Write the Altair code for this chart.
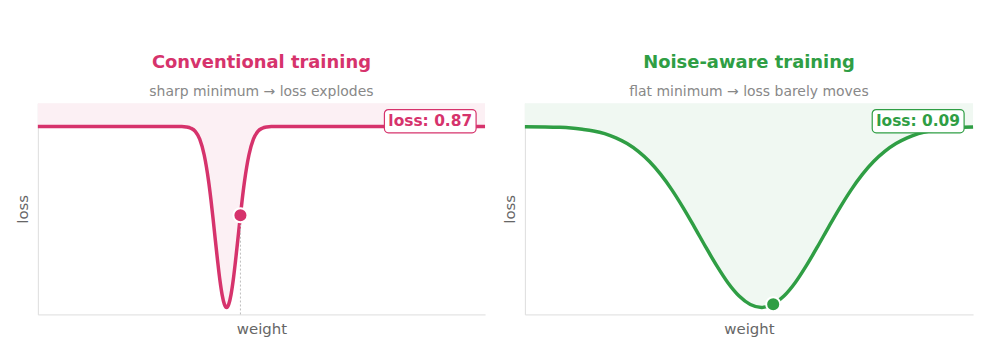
import altair as alt
import pandas as pd

# ---- data ----
left_w = [0, 20, 30, 32.2, 33.2, 34.2, 35.2, 36.2, 37.2, 38.2, 38.7, 39.2, 39.7, 40.2, 40.7, 41.2,
          41.7, 42.2, 42.7, 43.2, 43.7, 44.2, 44.7, 45.2, 45.7, 46.2, 47.2, 48.2, 49.2, 50.2,
          51.2, 52.2, 64.4, 100]
left_loss = [0.89, 0.89, 0.89, 0.89, 0.888, 0.882, 0.867, 0.830, 0.755, 0.628, 0.544, 0.450,
             0.350, 0.253, 0.164, 0.094, 0.049, 0.033, 0.049, 0.094, 0.164, 0.253, 0.350, 0.450,
             0.544, 0.628, 0.755, 0.830, 0.867, 0.882, 0.888, 0.89, 0.89, 0.89]

right_w = [0, 7.8, 10.3, 12.8, 15.3, 17.8, 20.3, 22.8, 25.3, 27.8, 30.3, 32.8, 35.3, 37.8, 40.3,
           42.8, 45.3, 47.8, 50.3, 52.8, 55.3, 57.8, 60.3, 62.8, 65.3, 67.8, 70.3, 72.8, 75.3,
           77.8, 80.3, 82.8, 85.3, 87.8, 90.3, 92.8, 95.3, 97.8, 100]
right_loss = [0.889, 0.886, 0.883, 0.877, 0.869, 0.856, 0.836, 0.809, 0.772, 0.724, 0.663, 0.590,
              0.506, 0.415, 0.321, 0.231, 0.150, 0.087, 0.047, 0.033, 0.047, 0.087, 0.150, 0.231,
              0.321, 0.415, 0.506, 0.590, 0.663, 0.724, 0.772, 0.809, 0.836, 0.856, 0.869, 0.877,
              0.883, 0.886, 0.888]

left_point = (45.3, 0.47)
right_point = (55.4, 0.048)

titles = ["Conventional training", "Noise-aware training"]
subtitles = ["sharp minimum \u2192 loss explodes", "flat minimum \u2192 loss barely moves"]
labels = ["loss: 0.87", "loss: 0.09"]

PINK = "#d6336c"
GREEN = "#2f9e44"
FONT = "DejaVu Sans"

xs = alt.Scale(domain=[0, 100], nice=False)
ys = alt.Scale(domain=[0, 1], nice=False)


def panel(w, loss, pt, title, subtitle, label, color, fill, width, show_rule):
    df = pd.DataFrame({"w": w, "loss": loss, "top": 1.0})
    base = alt.Chart(df)
    area = base.mark_area(color=fill, interpolate="monotone").encode(
        x=alt.X("w:Q", scale=xs, title="weight"),
        y=alt.Y("loss:Q", scale=ys, title="loss"),
        y2="top:Q",
    )
    line = base.mark_line(color=color, strokeWidth=3.5, interpolate="monotone").encode(
        x="w:Q", y="loss:Q"
    )
    pdf = pd.DataFrame({"w": [pt[0]], "loss": [pt[1]], "zero": [0.0]})
    layers = [area, line]
    if show_rule:
        rule = alt.Chart(pdf).mark_rule(color="#bbbbbb", strokeWidth=1, strokeDash=[2, 2]).encode(
            x="w:Q", y="zero:Q", y2="loss:Q"
        )
        layers.append(rule)
    point = alt.Chart(pdf).mark_circle(
        size=200, color=color, opacity=1, stroke="white", strokeWidth=2
    ).encode(x="w:Q", y="loss:Q")
    layers.append(point)
    ldf = pd.DataFrame({"x1": [77.5], "x2": [98.0], "y1": [0.86], "y2": [0.97],
                        "xm": [87.75], "ym": [0.915], "t": [label]})
    box = alt.Chart(ldf).mark_rect(
        fill="white", stroke=color, strokeWidth=1.2, cornerRadius=4
    ).encode(x="x1:Q", x2="x2:Q", y="y1:Q", y2="y2:Q")
    txt = alt.Chart(ldf).mark_text(
        font=FONT, fontSize=15.5, fontWeight="bold", color=color, align="center", baseline="middle"
    ).encode(x="xm:Q", y="ym:Q", text="t:N")
    layers += [box, txt]
    return alt.layer(*layers).properties(
        width=width,
        height=212,
        title=alt.TitleParams(
            text=title, subtitle=subtitle, color=color, font=FONT, fontSize=18,
            fontWeight="bold", subtitleFont=FONT, subtitleFontSize=14,
            subtitleColor="#888888", subtitlePadding=13, offset=4, anchor="middle",
        ),
    )


left = panel(left_w, left_loss, left_point, titles[0], subtitles[0], labels[0],
             PINK, "#fcf0f4", 449, True)
right = panel(right_w, right_loss, right_point, titles[1], subtitles[1], labels[1],
              GREEN, "#f0f8f2", 450, False)

chart = alt.hconcat(left, right, spacing=11).properties(
    padding={"left": 16, "top": 54, "right": 10, "bottom": 10},
    background="white",
).configure_view(strokeWidth=0).configure_axis(
    domainColor="#dddddd", domainWidth=1, ticks=False, labels=False, grid=False,
    titleColor="#666666", titleFont=FONT, titleFontSize=15, titleFontWeight="normal",
    titlePadding=7,
)

chart.save("out.html", embed_options={"renderer": "svg", "actions": False})
